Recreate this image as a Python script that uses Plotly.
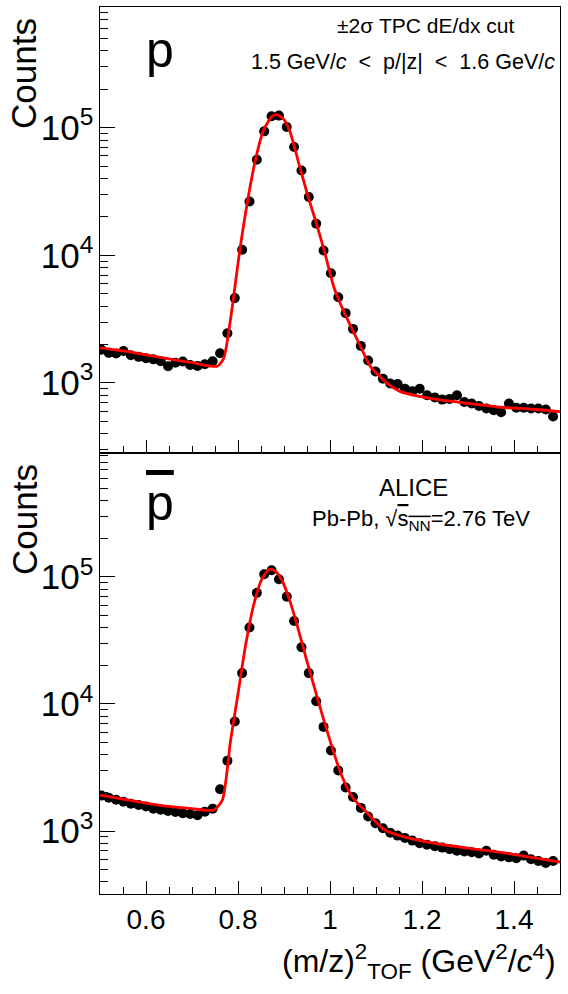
import plotly.graph_objects as go

# ---------------- data ----------------
bin_x = [0.503, 0.519, 0.535, 0.551, 0.567, 0.584, 0.600, 0.616, 0.632, 0.648,
         0.664, 0.680, 0.696, 0.712, 0.728, 0.745, 0.761, 0.777, 0.793, 0.809,
         0.825, 0.841, 0.857, 0.873, 0.889, 0.906, 0.922, 0.938, 0.954, 0.970,
         0.986, 1.002, 1.018, 1.034, 1.050, 1.067, 1.083, 1.099, 1.115, 1.131,
         1.147, 1.163, 1.179, 1.195, 1.211, 1.228, 1.244, 1.260, 1.276, 1.292,
         1.308, 1.324, 1.340, 1.356, 1.372, 1.389, 1.405, 1.421, 1.437, 1.453,
         1.469, 1.485]

counts_p = [1820, 1720, 1700, 1780, 1650, 1600, 1560, 1530, 1480, 1350,
            1440, 1470, 1380, 1360, 1400, 1480, 1710, 2450, 4620, 11040,
            26400, 56100, 93500, 122700, 124200, 101200, 70600, 46200, 28600, 17700,
            10900, 7240, 4690, 3520, 2650, 1950, 1500, 1230, 1080, 990,
            980, 900, 860, 900, 800, 770, 740, 750, 800, 710,
            690, 660, 630, 610, 590, 690, 640, 640, 630, 630,
            620, 545]

counts_pbar = [1900, 1830, 1760, 1700, 1640, 1600, 1560, 1500, 1470, 1440,
               1410, 1380, 1360, 1330, 1420, 1500, 2130, 3580, 7270, 17500,
               40000, 75000, 105000, 113000, 96000, 70000, 45000, 28000, 17500, 10500,
               6600, 4300, 3000, 2200, 1850, 1520, 1300, 1150, 1050, 970,
               920, 880, 840, 800, 780, 760, 740, 720, 700, 690,
               680, 665, 700, 650, 630, 620, 610, 640, 600, 580,
               560, 580]

fit_p_x = [0.500, 0.550, 0.600, 0.650, 0.700, 0.755, 0.769, 0.784, 0.805, 0.820,
           0.838, 0.856, 0.874, 0.885, 0.900, 0.914, 0.932, 0.950, 0.968, 0.987,
           1.008, 1.019, 1.037, 1.063, 1.088, 1.124, 1.153, 1.197, 1.240, 1.298,
           1.371, 1.443, 1.500]
fit_p_y = [1885, 1780, 1660, 1540, 1440, 1350, 1560, 3200, 11700, 25600,
           56100, 96400, 122700, 126500, 115600, 90800, 52800, 30800, 18970, 11040,
           5690, 4480, 3200, 2046, 1343, 995, 855, 782, 736, 693,
           645, 622, 596]

fit_pbar_x = [0.500, 0.550, 0.600, 0.650, 0.700, 0.747, 0.766, 0.784, 0.800, 0.815,
              0.833, 0.851, 0.868, 0.880, 0.895, 0.912, 0.930, 0.948, 0.966, 0.985,
              1.005, 1.025, 1.050, 1.077, 1.116, 1.157, 1.236, 1.315, 1.395, 1.500]
fit_pbar_y = [1920, 1780, 1660, 1560, 1500, 1460, 1750, 5210, 12000, 27000,
              58000, 95000, 115000, 112000, 95000, 66000, 40000, 23000, 13500, 7800,
              4500, 2750, 1820, 1436, 1037, 906, 790, 721, 659, 570]

x_ticks = [0.6, 0.8, 1.0, 1.2, 1.4]
x_tick_labels = ["0.6", "0.8", "1", "1.2", "1.4"]

# ---------------- layout helpers ----------------
W, H = 568, 994
ML, MR, MT, MB = 100, 8, 7, 100
PW = W - ML - MR
PH = H - MT - MB
split = (H - MB - 452.5) / PH

def px(x):
    return (x - ML) / PW

def py(y):
    return (H - MB - y) / PH

FONT = "Liberation Sans, Arial, Helvetica, sans-serif"

fig = go.Figure()

for xs, ys, fx, fy, xa, ya in [
    (bin_x, counts_p, fit_p_x, fit_p_y, "x", "y"),
    (bin_x, counts_pbar, fit_pbar_x, fit_pbar_y, "x2", "y2"),
]:
    fig.add_trace(go.Scatter(
        x=xs, y=ys, mode="markers", xaxis=xa, yaxis=ya,
        marker=dict(color="black", size=10, symbol="circle"),
        showlegend=False, hoverinfo="skip"))
    fig.add_trace(go.Scatter(
        x=fx, y=fy, mode="lines", xaxis=xa, yaxis=ya,
        line=dict(color="#ff0000", width=2.8, shape="spline", smoothing=0.6),
        showlegend=False, hoverinfo="skip"))

xcommon = dict(range=[0.5, 1.5], showline=True, linecolor="black", linewidth=1,
               mirror=True, ticks="inside", ticklen=13, tickcolor="black",
               tickvals=x_ticks, ticktext=x_tick_labels,
               minor=dict(ticks="inside", ticklen=7, dtick=0.05, tick0=0.5,
                          tickcolor="black"),
               showgrid=False, zeroline=False,
               tickfont=dict(family=FONT, size=28, color="black"))
ycommon = dict(type="log", showline=True, linecolor="black", linewidth=1,
               mirror=True, ticks="inside", ticklen=15, tickcolor="black",
               dtick=1, exponentformat="power", showexponent="all",
               minor=dict(ticks="inside", ticklen=8, dtick="D1", tickcolor="black"),
               showgrid=False, zeroline=False,
               tickfont=dict(family=FONT, size=28, color="black"))

fig.update_layout(
    width=W, height=H,
    margin=dict(l=ML, r=MR, t=MT, b=MB, pad=0),
    paper_bgcolor="white", plot_bgcolor="white",
    font=dict(family=FONT, color="black"),
    xaxis=dict(xcommon, domain=[0, 1], anchor="y", showticklabels=False),
    yaxis=dict(ycommon, domain=[split, 1], range=[2.455, 5.945], anchor="x"),
    xaxis2=dict(xcommon, domain=[0, 1], anchor="y2"),
    yaxis2=dict(ycommon, domain=[0, split], range=[2.504, 5.98], anchor="x2"),
)

def ann(text, x, y, size, xanchor="center", yanchor="middle", angle=0):
    fig.add_annotation(text=text, x=px(x), y=py(y), xref="paper", yref="paper",
                       showarrow=False, xanchor=xanchor, yanchor=yanchor,
                       textangle=angle,
                       font=dict(family=FONT, size=size, color="black"))

ann("p", 160, 50, 50)
ann("<span style='text-decoration:overline'>p</span>", 160, 503, 50)
ann("±2σ TPC dE/dx cut", 426, 25, 21)
ann("1.5 GeV/<i>c</i>  &lt;  p/|z|  &lt;  1.6 GeV/<i>c</i>", 557, 62, 21.5, xanchor="right")
ann("ALICE", 413, 487, 24)
ann("Pb-Pb, √<span style='text-decoration:overline'>s<sub>NN</sub></span>=2.76 TeV",
    421, 520, 22)
ann("Counts", 24, 74, 35, angle=-90)
ann("Counts", 24, 520, 35, angle=-90)
ann("(m/z)<sup>2</sup><sub>TOF</sub> (GeV<sup>2</sup>/<i>c</i><sup>4</sup>)",
    558, 962, 32, xanchor="right")

fig.write_html("out.html", config={"displayModeBar": False},
               post_script="document.body.style.margin='0px';")
